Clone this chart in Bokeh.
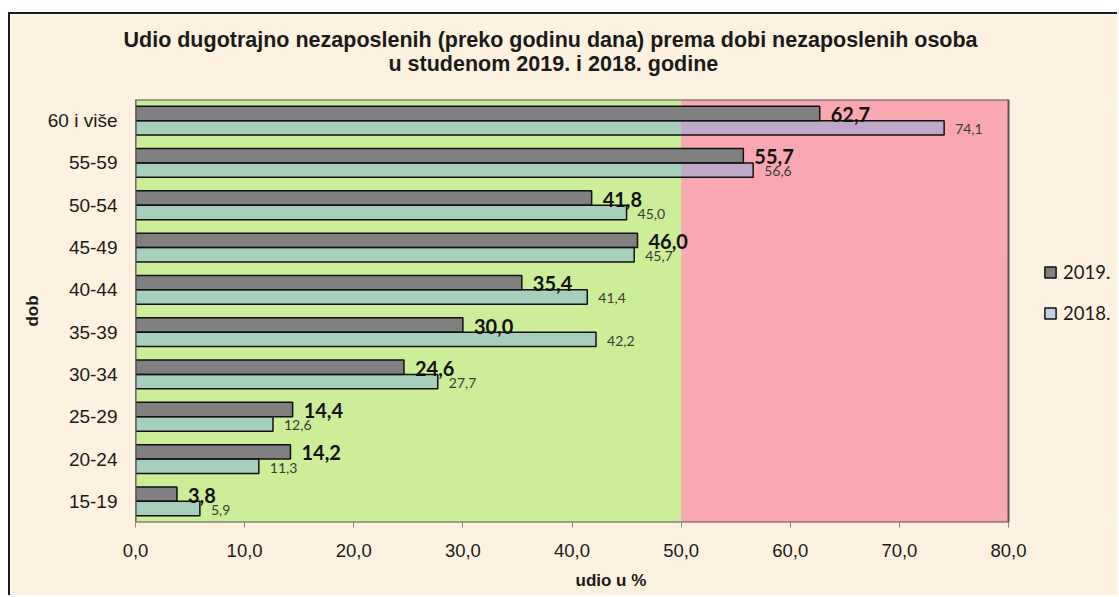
from bokeh.plotting import figure
from bokeh.models import (FactorRange, Range1d, BoxAnnotation, Legend, LegendItem, Title,
                          FixedTicker, ColumnDataSource, CustomJSTickFormatter)
from bokeh.transform import dodge
from bokeh.core.properties import value
from bokeh.embed import file_html
from bokeh.resources import INLINE

categories = ["60 i više", "55-59", "50-54", "45-49", "40-44", "35-39", "30-34", "25-29", "20-24", "15-19"]
values_2019 = [62.7, 55.7, 41.8, 46.0, 35.4, 30.0, 24.6, 14.4, 14.2, 3.8]
values_2018 = [74.1, 56.6, 45.0, 45.7, 41.4, 42.2, 27.7, 12.6, 11.3, 5.9]
series_names = ["2019.", "2018."]
x_ticks = [0, 10, 20, 30, 40, 50, 60, 70, 80]
zone_limits = [0, 50, 80]

title_line1 = "Udio dugotrajno nezaposlenih (preko godinu dana)  prema dobi nezaposlenih osoba"
title_line2 = "u studenom 2019. i 2018. godine"
x_title = "udio u %"
y_title = "dob"

# visible x extent continues past the plot box so that the legend can sit beside it
X_VIEW_END = 90.17


def fmt(v):
    return f"{v:.1f}".replace(".", ",")


src = ColumnDataSource(dict(
    cat=categories, v19=values_2019, v18=values_2018,
    l19=[fmt(v) for v in values_2019], l18=[fmt(v) for v in values_2018]))

CREAM = "#FDF2DF"
GREEN = "#CCEE99"
PINK = "#F9A8B1"
INK = "#1a1a1a"

p = figure(width=1109, height=583,
           y_range=FactorRange(factors=list(reversed(categories))),
           x_range=Range1d(zone_limits[0], X_VIEW_END),
           output_backend="svg", toolbar_location=None, title=None,
           min_border_left=125, min_border_right=0, min_border_top=85, min_border_bottom=75)
p.styles = {"border-left": "2px solid #1a1a1a", "border-top": "2px solid #1a1a1a",
            "margin-top": "12px", "margin-left": "8px"}
p.border_fill_color = CREAM
p.background_fill_color = CREAM
p.outline_line_color = None
p.grid.visible = False

p.add_layout(BoxAnnotation(left=zone_limits[0], right=zone_limits[1], fill_color=GREEN, fill_alpha=1,
                           line_alpha=0, level="underlay"))
p.add_layout(BoxAnnotation(left=zone_limits[1], right=zone_limits[2], fill_color=PINK, fill_alpha=1,
                           line_alpha=0, level="underlay"))
p.add_layout(BoxAnnotation(left=zone_limits[0], right=zone_limits[2], fill_alpha=0,
                           line_color="#555555", line_alpha=1, line_width=2, level="overlay"))

r19 = p.hbar(y=dodge("cat", 0.17, range=p.y_range), left=0, right="v19", height=0.34,
             fill_color="#808080", line_color="#111111", line_width=1.5, source=src)
r18 = p.hbar(y=dodge("cat", -0.17, range=p.y_range), left=0, right="v18", height=0.34,
             fill_color="#78AAE6", fill_alpha=0.45, line_color="#111111", line_width=1.5, source=src)

p.text(x="v19", y=dodge("cat", 0.145, range=p.y_range), text="l19", source=src,
       x_offset=11, text_baseline="middle", text_align="left",
       text_font=value("Lato"), text_font_style="bold", text_font_size="20px", text_color="#111111")
p.text(x="v18", y=dodge("cat", -0.2, range=p.y_range), text="l18", source=src,
       x_offset=11, text_baseline="middle", text_align="left",
       text_font=value("Lato"), text_font_size="14px", text_color="#3a3a3a")

# axes
p.xaxis.ticker = FixedTicker(ticks=x_ticks)
p.xaxis.formatter = CustomJSTickFormatter(code="return tick.toFixed(1).replace('.', ',');")
p.xaxis.major_tick_in = 0
p.xaxis.major_tick_out = 5
p.xaxis.minor_tick_line_color = None
p.xaxis.major_tick_line_color = "#888888"
p.xaxis.axis_line_color = None
p.xaxis.major_label_standoff = 16
p.xaxis.major_label_text_font = "Liberation Sans"
p.xaxis.major_label_text_font_size = "18.5px"
p.xaxis.major_label_text_color = INK
# a blank axis label only reserves a little room under the tick labels
p.xaxis.axis_label = " "
p.xaxis.axis_label_text_font_size = "1px"
p.xaxis.axis_label_standoff = 8

p.yaxis.major_tick_line_color = None
p.yaxis.axis_line_color = "#888888"
p.yaxis.major_label_standoff = 12
p.yaxis.major_label_text_font = "Liberation Sans"
p.yaxis.major_label_text_font_size = "19px"
p.yaxis.major_label_text_color = INK
p.yaxis.axis_label = y_title
p.yaxis.axis_label_text_font = "Liberation Sans"
p.yaxis.axis_label_text_font_style = "bold"
p.yaxis.axis_label_text_font_size = "17px"
p.yaxis.axis_label_text_color = INK
p.yaxis.axis_label_standoff = 3

# titles (a blank spacer row first keeps the two title lines above the plot box)
p.add_layout(Title(text=" ", align="left", text_font="Liberation Sans",
                   text_font_size="21.5px", standoff=-2), "above")
p.add_layout(Title(text=title_line2, align="left", offset=253, text_font="Liberation Sans",
                   text_font_size="21.5px", text_font_style="bold", text_color=INK,
                   standoff=0), "above")
p.add_layout(Title(text=title_line1, align="left", offset=-12, text_font="Liberation Sans",
                   text_font_size="21.5px", text_font_style="bold", text_color=INK,
                   standoff=-4), "above")
p.add_layout(Title(text=x_title, align="left", offset=440, text_font="Liberation Sans",
                   text_font_size="17px", text_font_style="bold", text_color=INK,
                   vertical_align="top", standoff=-2), "below")

legend = Legend(items=[LegendItem(label=series_names[0], renderers=[r19]),
                       LegendItem(label=series_names[1], renderers=[r18])],
                location=(904, 194), orientation="vertical")
legend.background_fill_alpha = 0
legend.border_line_alpha = 0
legend.glyph_width = 14
legend.glyph_height = 14
legend.label_height = 20
legend.spacing = 19
legend.label_standoff = 6
legend.padding = 4
legend.margin = 0
legend.label_text_font = "Lato"
legend.label_text_font_size = "18.5px"
legend.label_text_color = INK
p.add_layout(legend)

open("out.html", "w").write(file_html(p, INLINE))
